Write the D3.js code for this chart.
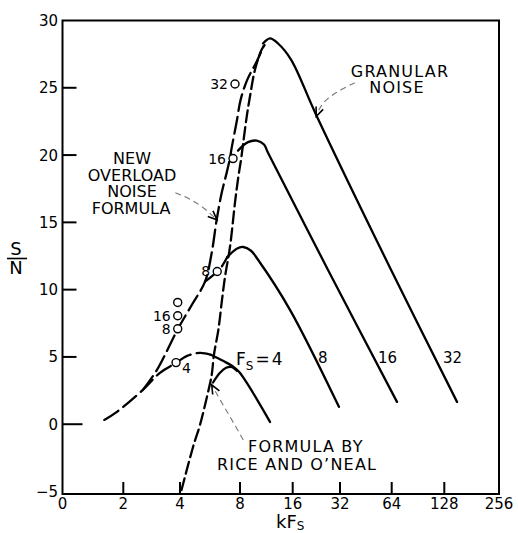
<!DOCTYPE html>
<html>
<head>
<meta charset="utf-8">
<script src="https://cdn.jsdelivr.net/npm/d3@7"></script>
<style>
  body { margin: 0; background: #fff; }
  svg { display: block; font-family: "DejaVu Sans", sans-serif; }
  .curve { fill: none; stroke: #000; stroke-width: 2.3; stroke-linecap: round; stroke-linejoin: round; }
  .newf { stroke-dasharray: 17, 6; }
  .rice { stroke-dasharray: 12, 5; }
  .pointer { fill: none; stroke: #777; stroke-width: 1.1; stroke-dasharray: 6, 4; }
  .frame { fill: none; stroke: #000; stroke-width: 2; }
  .tick { stroke: #000; stroke-width: 2; }
</style>
</head>
<body>
<svg id="chart"></svg>
<script>
// SVG size params
var width = 518;
var height = 533;

// Axis ticks (kFs is octave spaced) and printed labels
var xTicks = [1, 2, 4, 8, 16, 32, 64, 128, 256];
var xTickLabels = ["0", "2", "4", "8", "16", "32", "64", "128", "256"];
var yTicks = [-5, 0, 5, 10, 15, 20, 25, 30];

// Curves as [kFs, S/N]
// overload noise, new formula (long dashes)
var overloadNew = [[2.54, 2.55], [3.02, 4.04], [3.90, 7.09], [4.59, 8.88], [5.34, 10.59], [5.77, 12.74],
  [6.11, 15.19], [6.48, 17.21], [6.88, 18.77], [7.13, 19.81], [7.27, 20.55], [7.70, 22.49],
  [8.07, 24.12], [8.81, 25.61], [9.97, 26.95], [10.87, 28.07]];
var newFs4 = [[1.61, 0.32], [1.86, 0.92], [2.54, 2.55], [3.13, 3.82], [3.81, 4.56], [4.34, 5.08], [5.04, 5.30], [5.72, 5.16]];
var newFs8 = [[5.34, 10.59], [5.77, 10.98], [6.15, 11.35], [6.48, 11.72], [6.91, 12.42]];
// overload noise, Rice and O'Neal formula (short dashes)
var overloadRice = [[4.07, -4.89], [4.65, -1.69], [5.04, -0.05], [5.46, 2.03], [5.77, 3.67], [5.92, 5.16],
  [6.23, 7.01], [6.50, 9.25], [6.73, 10.96], [7.13, 13.19], [7.55, 16.46], [7.85, 18.40], [8.11, 19.66],
  [8.35, 20.93], [8.74, 22.86], [9.12, 24.35], [9.75, 26.36], [10.64, 27.84], [11.11, 28.21]];
// total noise curves (solid), granular side on the right
var solidFs4 = [[5.72, 5.16], [6.57, 4.71], [7.29, 4.34], [7.91, 3.89], [11.87, 0.17]];
var riceFs4 = [[5.86, 3.10], [6.35, 3.82], [6.81, 4.19], [7.21, 4.26], [7.73, 3.96]];
var solidFs8 = [[6.91, 12.42], [7.70, 13.04], [8.35, 13.17], [9.25, 12.89], [10.14, 12.22], [15.44, 8.50], [31.5, 1.29]];
var solidFs16 = [[7.82, 20.33], [8.89, 20.96], [9.97, 21.07], [10.97, 20.78], [11.56, 20.18], [26.8, 11.48], [68.6, 1.66]];
var solidFs32 = [[10.83, 28.29], [11.87, 28.67], [13.19, 28.29], [15.65, 27.10], [22.5, 23.02], [63.4, 11.48], [150.4, 1.66]];

// Simulation points
var simFs = [4, 8, 16, 32, 8, 16, 32];
var simKFs = [3.81, 3.89, 3.89, 3.89, 6.15, 7.38, 7.55];
var simSN = [4.58, 7.09, 8.06, 9.05, 11.35, 19.74, 25.28];
var simLabel = ["4", "8", "16", "", "8", "16", "32"];

// Annotation pointers
var pointerNew = [[3.78, 17.2], [4.49, 16.76], [5.28, 16.09], [6.13, 15.19]];
var pointerGranular = [[38.97, 25.37], [32.43, 24.87], [27.65, 24.35], [24.22, 23.76], [22.6, 22.88]];
var pointerRice = [[8.35, -1.17], [7.13, 0.57], [6.35, 1.81], [5.77, 2.93]];

// Initiate SVG
var svg = d3.select("#chart")
  .attr("width", width)
  .attr("height", height);

// hand drawn octave spacing of the original axis
var x = d3.scaleLog().base(2)
  .domain(xTicks)
  .range([62.5, 123.3, 180, 240, 292.7, 340, 391.7, 444.3, 499]);
var y = d3.scaleLinear().domain([-5, 30]).range([491.5, 20.5]);
var plotBottom = 494;

var line = d3.line()
  .x(d => x(d[0]))
  .y(d => y(d[1]))
  .curve(d3.curveCatmullRom.alpha(0.5));

var pointerLine = d3.line()
  .x(d => x(d[0]))
  .y(d => y(d[1]))
  .curve(d3.curveBasis);

// Arrow head
svg.append("defs").append("marker")
  .attr("id", "arrow")
  .attr("viewBox", "-11 -6 13 12")
  .attr("refX", 0).attr("refY", 0)
  .attr("markerWidth", 13).attr("markerHeight", 12)
  .attr("markerUnits", "userSpaceOnUse")
  .attr("orient", "auto")
  .append("path")
    .attr("d", "M-9,-3.8L0,0L-9,3.8")
    .attr("fill", "none")
    .attr("stroke", "#000")
    .attr("stroke-width", 1.6)
    .attr("stroke-dasharray", "none");

// Frame
svg.append("rect")
  .attr("class", "frame")
  .attr("x", x(1)).attr("y", y(30))
  .attr("width", x(256) - x(1))
  .attr("height", plotBottom - y(30));

// Y ticks, inside the frame
svg.append("g").selectAll("line")
  .data(yTicks.filter(d => d > -5 && d < 30))
  .enter().append("line")
    .attr("class", "tick")
    .attr("x1", x(1)).attr("x2", d => x(1) + (d === 0 ? 20 : 14))
    .attr("y1", d => y(d)).attr("y2", d => y(d));

svg.append("g").selectAll("text")
  .data(yTicks)
  .enter().append("text")
    .attr("x", 58)
    .attr("y", d => y(d) + 5.5)
    .attr("text-anchor", "end")
    .attr("font-size", 15)
    .text(d => d === -5 ? "\u22125" : d);

// X ticks, inside the frame
svg.append("g").selectAll("line")
  .data(xTicks.slice(1, -1))
  .enter().append("line")
    .attr("class", "tick")
    .attr("x1", d => x(d)).attr("x2", d => x(d))
    .attr("y1", plotBottom).attr("y2", plotBottom - 12);

svg.append("g").selectAll("text")
  .data(xTicks)
  .enter().append("text")
    .attr("x", d => x(d))
    .attr("y", plotBottom + 15)
    .attr("text-anchor", "middle")
    .attr("font-size", 15)
    .text((d, i) => xTickLabels[i]);

// Axis titles
var kfs = svg.append("text").attr("x", 276).attr("y", 528).attr("font-size", 18);
kfs.append("tspan").text("kF");
kfs.append("tspan").attr("font-size", 12).attr("dy", 2).text("S");

svg.append("text").attr("x", 16).attr("y", 255).attr("text-anchor", "middle").attr("font-size", 18).text("S");
svg.append("line").attr("x1", 7).attr("x2", 27).attr("y1", 258.5).attr("y2", 258.5)
  .attr("stroke", "#000").attr("stroke-width", 1.6);
svg.append("text").attr("x", 16).attr("y", 274).attr("text-anchor", "middle").attr("font-size", 18).text("N");

// Curves
var curves = [
  { data: overloadNew, cls: "curve newf" },
  { data: newFs4, cls: "curve newf" },
  { data: newFs8, cls: "curve newf" },
  { data: overloadRice, cls: "curve rice" },
  { data: solidFs4, cls: "curve" },
  { data: riceFs4, cls: "curve" },
  { data: solidFs8, cls: "curve" },
  { data: solidFs16, cls: "curve" },
  { data: solidFs32, cls: "curve" }
];

svg.append("g").selectAll("path")
  .data(curves)
  .enter().append("path")
    .attr("class", d => d.cls)
    .attr("d", d => line(d.data));

// Pointers
[pointerNew, pointerGranular, pointerRice].forEach(function(p) {
  svg.append("path")
    .attr("class", "pointer")
    .attr("d", pointerLine(p))
    .attr("marker-end", "url(#arrow)");
});

// Simulation circles
var sim = simFs.map((f, i) => ({ fs: f, k: simKFs[i], sn: simSN[i], label: simLabel[i] }));

svg.append("g").selectAll("circle")
  .data(sim)
  .enter().append("circle")
    .attr("cx", d => x(d.k))
    .attr("cy", d => y(d.sn))
    .attr("r", 4)
    .attr("fill", "#fff")
    .attr("stroke", "#000")
    .attr("stroke-width", 1.4);

svg.append("g").selectAll("text")
  .data(sim)
  .enter().append("text")
    .attr("x", d => d.fs === 4 ? x(d.k) + 6 : x(d.k) - 7)
    .attr("y", d => y(d.sn) + (d.fs === 4 ? 10 : 5))
    .attr("text-anchor", d => d.fs === 4 ? "start" : "end")
    .attr("font-size", 14)
    .text(d => d.label);

// Curve labels
var fsLabel = svg.append("text").attr("x", 236).attr("y", 365).attr("font-size", 17);
fsLabel.append("tspan").text("F");
fsLabel.append("tspan").attr("font-size", 12).attr("dy", 5).text("S");
fsLabel.append("tspan").attr("dx", 2).attr("dy", -5).text("=");
fsLabel.append("tspan").attr("dx", 2).text("4");

[["8", 318], ["16", 378], ["32", 443]].forEach(function(l) {
  svg.append("text").attr("x", l[1]).attr("y", 363).attr("font-size", 15).text(l[0]);
});

// Annotation text
function block(lines, xPos, yPos, anchor, spacing, lineHeight) {
  var t = svg.append("text")
    .attr("font-size", 16)
    .attr("text-anchor", anchor)
    .attr("letter-spacing", spacing);
  lines.forEach(function(s, i) {
    t.append("tspan").attr("x", xPos[i]).attr("y", yPos + i * lineHeight).text(s);
  });
}

block(["NEW", "OVERLOAD", "NOISE", "FORMULA"], [132, 132, 132, 131], 164, "middle", 0, 16.5);
block(["GRANULAR", "NOISE"], [400, 397], 77, "middle", 1.2, 16);
block(["FORMULA BY", "RICE AND O\u2019NEAL"], [248, 217], 452, "start", 1.2, 18);
</script>
</body>
</html>
